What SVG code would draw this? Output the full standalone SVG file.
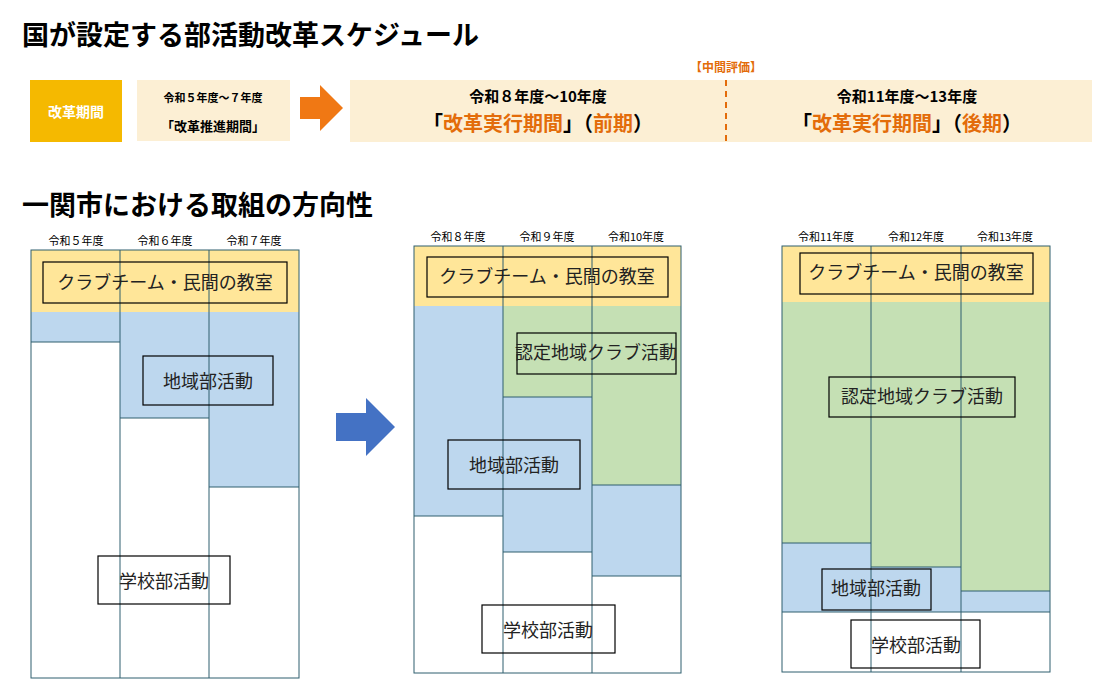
<svg xmlns="http://www.w3.org/2000/svg" width="1113" height="685" viewBox="0 0 1113 685">
<style>
text{font-family:"Noto Sans CJK JP","Noto Sans",sans-serif}
.h{font-size:27px;font-weight:bold;fill:#000}
.y{font-size:11px;fill:#000;text-anchor:middle}
.lb{fill:none;stroke:#000;stroke-width:1.2}
.lt{font-size:18px;fill:#222;text-anchor:middle}
.cl{stroke:#2f5f6f;stroke-width:1;fill:none}
.ye{fill:#ffe699}.bl{fill:#bdd7ee}.gr{fill:#c5e0b4}
.o{fill:#e36c0a}
</style>
<rect width="1113" height="685" fill="#fff"/>
<text class="h" x="22" y="45">国が設定する部活動改革スケジュール</text>
<text class="h" x="22" y="215">一関市における取組の方向性</text>
<g id="schedule">
<rect x="30" y="80" width="92" height="62" fill="#f5b900"/>
<text x="76" y="117" font-size="14" font-weight="bold" fill="#fff" text-anchor="middle">改革期間</text>
<rect x="137" y="80" width="153" height="61" fill="#fcefd4"/>
<text x="213" y="102" font-size="11" font-weight="bold" text-anchor="middle">令和５年度～７年度</text>
<text x="213" y="131" font-size="13" font-weight="bold" text-anchor="middle">「改革推進期間」</text>
<polygon points="300,97 320,97 320,85 343,108 320,131 320,119 300,119" fill="#f07814"/>
<rect x="350" y="80" width="742" height="62" fill="#fcefd4"/>
<line x1="726" y1="80" x2="726" y2="142" stroke="#e36c0a" stroke-width="2" stroke-dasharray="6,5"/>
<text x="726" y="72" font-size="12" font-weight="bold" fill="#e36c0a" text-anchor="middle">【中間評価】</text>
<text x="538" y="102" font-size="15" font-weight="bold" text-anchor="middle">令和８年度～10年度</text>
<text x="538" y="131" font-size="20" font-weight="bold" text-anchor="middle">「<tspan class="o">改革実行期間</tspan>」（<tspan class="o">前期</tspan>）</text>
<text x="907" y="102" font-size="15" font-weight="bold" text-anchor="middle">令和11年度～13年度</text>
<text x="907" y="131" font-size="20" font-weight="bold" text-anchor="middle">「<tspan class="o">改革実行期間</tspan>」（<tspan class="o">後期</tspan>）</text>
</g>
<g id="panel1">
<text class="y" x="76" y="245">令和５年度</text><text class="y" x="165" y="245">令和６年度</text><text class="y" x="254" y="245">令和７年度</text>
<rect class="ye" x="31" y="250" width="268" height="62"/>
<rect class="bl" x="31" y="312" width="89" height="30"/>
<rect class="bl" x="120" y="312" width="89" height="106"/>
<rect class="bl" x="209" y="312" width="90" height="175"/>
<line class="cl" x1="31" y1="342" x2="120" y2="342"/><line class="cl" x1="120" y1="418" x2="209" y2="418"/><line class="cl" x1="209" y1="487" x2="299" y2="487"/>
<rect class="cl" x="31" y="250" width="268" height="428"/>
<line class="cl" x1="120" y1="250" x2="120" y2="678"/><line class="cl" x1="209" y1="250" x2="209" y2="678"/>
<rect class="lb" x="43" y="262" width="244" height="41"/><text class="lt" x="165" y="289">クラブチーム・民間の教室</text>
<rect class="lb" x="143" y="356" width="130" height="49"/><text class="lt" x="208" y="388" font-size="20">地域部活動</text>
<rect class="lb" x="98" y="556" width="132" height="48" fill="#fff"/><text class="lt" x="164" y="588" font-size="20">学校部活動</text>
</g>
<polygon id="arrow" points="336,413 366,413 366,398 395,427 366,456 366,441 336,441" fill="#4472c4"/>
<g id="panel2">
<text class="y" x="458" y="241">令和８年度</text><text class="y" x="547" y="241">令和９年度</text><text class="y" x="636" y="241">令和10年度</text>
<rect class="ye" x="414" y="246" width="267" height="60"/>
<rect class="bl" x="414" y="306" width="89" height="210"/>
<rect class="gr" x="503" y="306" width="89" height="91"/><rect class="bl" x="503" y="397" width="89" height="155"/>
<rect class="gr" x="592" y="306" width="89" height="179"/><rect class="bl" x="592" y="485" width="89" height="91"/>
<line class="cl" x1="414" y1="516" x2="503" y2="516"/><line class="cl" x1="503" y1="397" x2="592" y2="397"/><line class="cl" x1="503" y1="552" x2="592" y2="552"/><line class="cl" x1="592" y1="485" x2="681" y2="485"/><line class="cl" x1="592" y1="576" x2="681" y2="576"/>
<rect class="cl" x="414" y="246" width="267" height="427"/>
<line class="cl" x1="503" y1="246" x2="503" y2="673"/><line class="cl" x1="592" y1="246" x2="592" y2="673"/>
<rect class="lb" x="427" y="257" width="241" height="40"/><text class="lt" x="547" y="283">クラブチーム・民間の教室</text>
<rect class="lb" x="517" y="333" width="159" height="41"/><text class="lt" x="596" y="359" font-size="14">認定地域クラブ活動</text>
<rect class="lb" x="448" y="440" width="132" height="49"/><text class="lt" x="514" y="472" font-size="20">地域部活動</text>
<rect class="lb" x="482" y="605" width="133" height="48" fill="#fff"/><text class="lt" x="548" y="637" font-size="20">学校部活動</text>
</g>
<g id="panel3">
<text class="y" x="826" y="241">令和11年度</text><text class="y" x="916" y="241">令和12年度</text><text class="y" x="1005" y="241">令和13年度</text>
<rect class="ye" x="782" y="246" width="268" height="56"/>
<rect class="gr" x="782" y="302" width="89" height="241"/><rect class="bl" x="782" y="543" width="89" height="69"/>
<rect class="gr" x="871" y="302" width="90" height="265"/><rect class="bl" x="871" y="567" width="90" height="45"/>
<rect class="gr" x="961" y="302" width="89" height="289"/><rect class="bl" x="961" y="591" width="89" height="21"/>
<line class="cl" x1="782" y1="543" x2="871" y2="543"/><line class="cl" x1="871" y1="567" x2="961" y2="567"/><line class="cl" x1="961" y1="591" x2="1050" y2="591"/><line class="cl" x1="782" y1="612" x2="1050" y2="612"/>
<rect class="cl" x="782" y="246" width="268" height="426"/>
<line class="cl" x1="871" y1="246" x2="871" y2="672"/><line class="cl" x1="961" y1="246" x2="961" y2="672"/>
<rect class="lb" x="800" y="253" width="233" height="41"/><text class="lt" x="916" y="279">クラブチーム・民間の教室</text>
<rect class="lb" x="829" y="377" width="186" height="40"/><text class="lt" x="922" y="403" font-size="16">認定地域クラブ活動</text>
<rect class="lb" x="822" y="569" width="109" height="41"/><text class="lt" x="876" y="595" font-size="16">地域部活動</text>
<rect class="lb" x="851" y="620" width="129" height="48" fill="#fff"/><text class="lt" x="916" y="652" font-size="20">学校部活動</text>
</g>
</svg>
